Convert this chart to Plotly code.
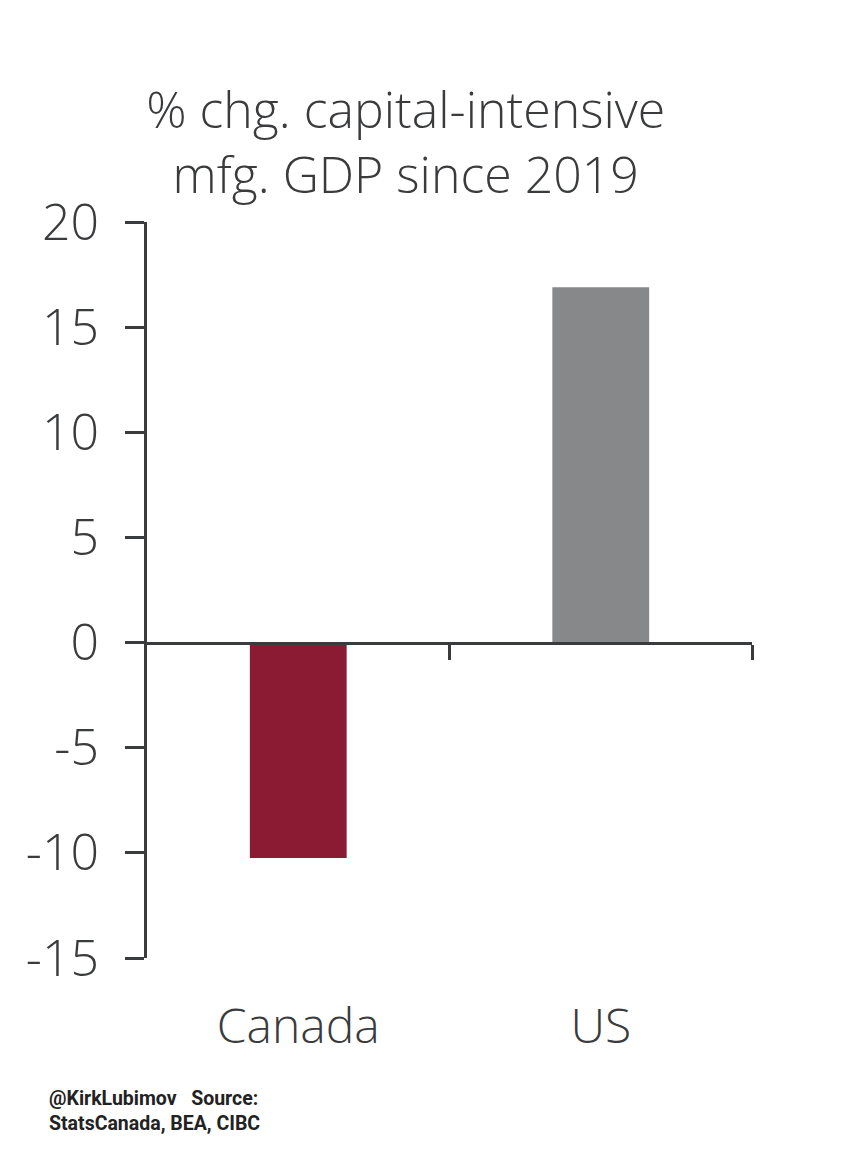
import plotly.graph_objects as go

# data
countries = ["Canada", "US"]
pct_change = [-10.25, 16.9]
bar_colors = ["#8b1a33", "#87888a"]
y_ticks = [-15, -10, -5, 0, 5, 10, 15, 20]
y_labels = ["-15", "-10", "-5", "0", "5", "10", "15", "20"]

axis_col = "#3a3b3d"
txt_col = "#3a3b3d"
font_main = "Open Sans"

y_min, y_max = -15, 20

fig = go.Figure()
fig.add_trace(go.Bar(
    x=list(range(len(countries))), y=pct_change,
    marker=dict(color=bar_colors, line=dict(width=0)),
    width=0.32, showlegend=False, hoverinfo="skip",
))
# empty trace so the zero-line axis gets drawn
fig.add_trace(go.Scatter(x=[], y=[], xaxis="x2", showlegend=False))

fig.update_layout(
    width=848, height=1162,
    paper_bgcolor="white", plot_bgcolor="white",
    margin=dict(l=139, r=104, t=214, b=212),
    font=dict(family=font_main, color=txt_col),
    title=dict(
        text="% chg. capital-intensive<br>mfg. GDP since 2019",
        x=0.469, xanchor="center", y=0.897, yanchor="top",
        font=dict(size=50, family=font_main, color=txt_col, weight=300),
    ),
    xaxis=dict(
        range=[-0.5, len(countries) - 0.5],
        tickvals=list(range(len(countries))), ticktext=countries,
        showline=False, showgrid=False, zeroline=False, ticks="",
        tickfont=dict(size=48, family=font_main, color=txt_col, weight=300),
        ticklabelstandoff=36,
    ),
    xaxis2=dict(
        overlaying="x", matches="x", anchor="free",
        position=(0 - y_min) / (y_max - y_min),
        range=[-0.5, len(countries) - 0.5],
        tickvals=[i + 0.5 for i in range(len(countries))],
        showticklabels=False, showgrid=False, zeroline=False,
        showline=True, linecolor=axis_col, linewidth=3,
        ticks="outside", ticklen=15, tickwidth=3, tickcolor=axis_col,
    ),
    yaxis=dict(
        range=[y_min, y_max], tickvals=y_ticks, ticktext=y_labels,
        showgrid=False, zeroline=False,
        showline=True, linecolor=axis_col, linewidth=3,
        ticks="outside", ticklen=19, tickwidth=3, tickcolor=axis_col,
        tickfont=dict(size=50, family=font_main, color=txt_col, weight=300),
        ticklabelstandoff=16,
    ),
)

fig.add_annotation(
    text="@KirkLubimov   Source:<br>StatsCanada, BEA, CIBC",
    xref="paper", yref="paper", x=-0.165, y=-0.172,
    xanchor="left", yanchor="top", align="left", showarrow=False,
    font=dict(family="Roboto", size=19.5, color="#222222", weight="bold"),
)

fig.write_html("out.html")
